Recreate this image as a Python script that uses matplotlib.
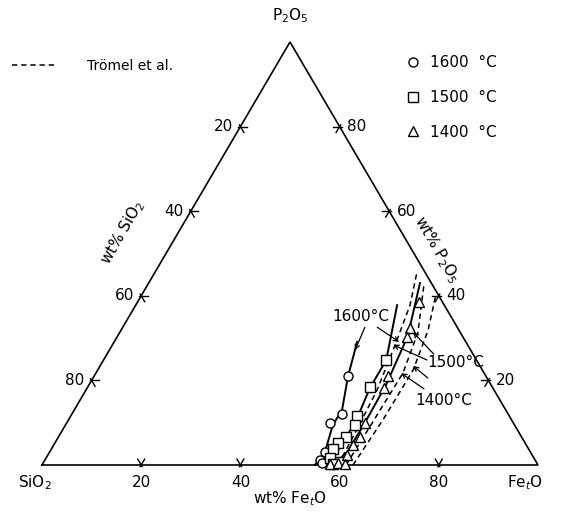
import numpy as np
import matplotlib.pyplot as plt
from matplotlib.lines import Line2D

# compositions in wt% : (FetO, P2O5), SiO2 is the rest
c1600_feo = [51.1, 54.4, 53.1, 55.5, 55.5, 56.3]
c1600_p = [21.0, 12.1, 10.0, 3.1, 1.2, 0.4]

s1500_feo = [57.0, 56.9, 57.7, 58.4, 58.0, 57.1, 56.8, 57.2, 59.7, 58.6]
s1500_p = [24.8, 18.4, 11.6, 9.5, 6.6, 5.2, 3.8, 1.7, 0.7, 0.3]

t1400_feo = [56.8, 58.0, 58.5, 59.3, 59.9, 60.1, 60.8, 60.3, 60.2, 58.0, 59.5, 61.0]
t1400_p = [38.6, 32.3, 30.3, 21.0, 18.1, 10.0, 6.7, 4.7, 2.4, 0.2, 0.5, 0.3]

# fitted curves, this work (solid)
line1600_feo = [55.0, 55.5, 53.9, 54.0, 51.2, 49.0]
line1600_p = [0.0, 3.1, 9.5, 13.0, 21.0, 29.1]
line1500_feo = [57.7, 58.1, 58.0, 57.0, 57.0, 52.7]
line1500_p = [0.0, 5.9, 11.1, 18.2, 24.8, 37.8]
line1400_feo = [58.7, 60.0, 60.1, 59.9, 58.5, 54.7]
line1400_p = [0.0, 3.1, 9.9, 18.9, 30.5, 43.0]

# Trömel et al. (dashed)
tro1600_feo = [59.7, 59.2, 58.7, 57.0, 55.3, 52.8]
tro1600_p = [0.0, 9.9, 17.7, 28.4, 37.8, 45.6]
tro1500_feo = [61.3, 61.6, 61.9, 60.1, 55.7]
tro1500_p = [0.0, 9.9, 21.8, 31.4, 42.6]
tro1400_feo = [62.7, 63.4, 63.6, 61.9, 59.3]
tro1400_p = [0.0, 10.6, 22.5, 31.9, 40.2]

tick_vals = [20, 40, 60, 80]

H = np.sqrt(3) / 2


def tern(feo, p):
    feo = np.asarray(feo, float)
    p = np.asarray(p, float)
    return feo + p / 2, p * H


fig = plt.figure(figsize=(5.62, 5.15), dpi=100)
ax = fig.add_axes([0, 0, 1, 1])
ax.set_xlim(-42 / 4.96, 520 / 4.96)
ax.set_ylim(-50 / 4.8845, 465 / 4.8845)
ax.axis('off')

fs = 11
# triangle
tx, ty = tern([0, 100, 0, 0], [0, 0, 100, 0])
ax.plot(tx, ty, color='black', lw=1.2, solid_joinstyle='miter')

# ticks
L = 1.4
for v in tick_vals:
    # bottom, wt% FetO
    x0, y0 = tern(v, 0)
    for d in [(0.5, H), (-0.5, H)]:
        ax.plot([x0 - 0.4 * d[0], x0 + L * d[0]], [y0 - 0.4 * d[1], y0 + L * d[1]], color='black', lw=1)
    ax.text(x0, y0 - 3.6, str(v), ha='center', va='center', fontsize=fs)
    # left side, wt% SiO2
    x0, y0 = tern(0, 100 - v)
    for d in [(1, 0), (0.5, -H)]:
        ax.plot([x0 - 0.4 * d[0], x0 + L * d[0]], [y0 - 0.4 * d[1], y0 + L * d[1]], color='black', lw=1)
    ax.text(x0 - 1.5, y0, str(v), ha='right', va='center', fontsize=fs)
    # right side, wt% P2O5
    x0, y0 = tern(100 - v, v)
    for d in [(-1, 0), (-0.5, -H)]:
        ax.plot([x0 - 0.4 * d[0], x0 + L * d[0]], [y0 - 0.4 * d[1], y0 + L * d[1]], color='black', lw=1)
    ax.text(x0 + 1.5, y0, str(v), ha='left', va='center', fontsize=fs)

# corner and axis labels
ax.text(tern(0, 0)[0] - 4.8, -3.6, 'SiO$_2$', ha='left', va='center', fontsize=fs)
ax.text(tern(100, 0)[0] + 1.0, -3.6, 'Fe$_t$O', ha='right', va='center', fontsize=fs)
ax.text(tern(0, 100)[0], tern(0, 100)[1] + 5.3, 'P$_2$O$_5$', ha='center', va='center', fontsize=fs)
ax.text(50, -6.9, 'wt% Fe$_t$O', ha='center', va='center', fontsize=fs)
ax.text(16.2, 47.7, 'wt% SiO$_2$', ha='center', va='center', fontsize=fs, rotation=60)
ax.text(79.6, 44.2, 'wt% P$_2$O$_5$', ha='center', va='center', fontsize=fs, rotation=-60)

# curves
for fe, p in [(line1600_feo, line1600_p), (line1500_feo, line1500_p), (line1400_feo, line1400_p)]:
    ax.plot(*tern(fe, p), color='black', lw=1.4)
for fe, p in [(tro1600_feo, tro1600_p), (tro1500_feo, tro1500_p), (tro1400_feo, tro1400_p)]:
    ax.plot(*tern(fe, p), color='black', lw=1.1, ls=(0, (3.5, 2.5)))

# data points
mk = dict(ls='none', mfc='white', mec='black', mew=1.0, ms=6.5)
ax.plot(*tern(c1600_feo, c1600_p), marker='o', **mk)
ax.plot(*tern(s1500_feo, s1500_p), marker='s', **mk)
ax.plot(*tern(t1400_feo, t1400_p), marker='^', **mk)

# temperature labels with leaders
arr = dict(arrowstyle='->', lw=0.9, color='black', mutation_scale=8, shrinkA=0, shrinkB=0)
ax.text(64.3, 30.4, '1600°C', ha='center', va='center', fontsize=fs)
ax.annotate('', xy=(63.1, 23.5), xytext=(65.1, 28.2), arrowprops=arr)
ax.annotate('', xy=(72.0, 25.2), xytext=(67.6, 28.2), arrowprops=arr)
ax.text(83.4, 21.0, '1500°C', ha='center', va='center', fontsize=fs)
ax.annotate('', xy=(70.8, 24.6), xytext=(77.6, 21.5), arrowprops=arr)
ax.annotate('', xy=(74.8, 27.2), xytext=(79.0, 22.7), arrowprops=arr)
ax.text(81.0, 13.3, '1400°C', ha='center', va='center', fontsize=fs)
ax.annotate('', xy=(72.4, 18.8), xytext=(77.0, 15.6), arrowprops=arr)
ax.annotate('', xy=(74.8, 20.3), xytext=(77.8, 17.8), arrowprops=arr)

# legends
h1 = [Line2D([], [], color='black', lw=1.1, ls=(0, (3.5, 2.5)))]
leg1 = ax.legend(h1, ['Trömel et al.'], loc='upper left', bbox_to_anchor=(0.021, 0.885),
                 frameon=False, fontsize=fs - 1, handlelength=3.1, handletextpad=2.3,
                 borderaxespad=0, borderpad=0)
ax.add_artist(leg1)
h2 = [Line2D([], [], marker=m, ls='none', mfc='white', mec='black', mew=1.0, ms=6.5) for m in ['o', 's', '^']]
ax.legend(h2, ['1600  °C', '1500  °C', '1400  °C'], loc='upper left', bbox_to_anchor=(0.724, 0.893),
          frameon=False, fontsize=fs, handlelength=0.8, handletextpad=0.7, labelspacing=1.3,
          borderaxespad=0, borderpad=0)

fig.savefig('out.png', dpi=100)
